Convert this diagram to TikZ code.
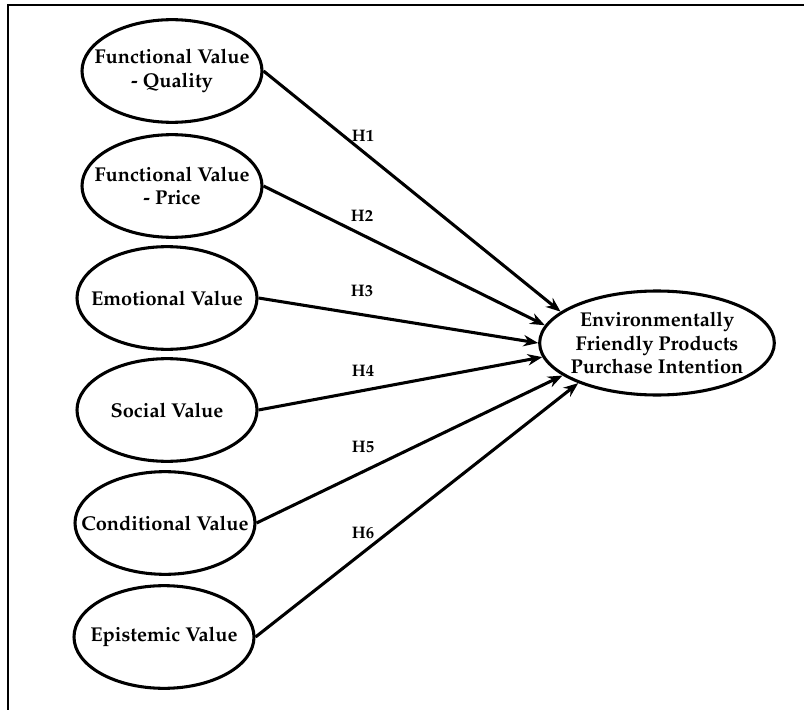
\documentclass[tikz,border=0pt]{standalone}
\usepackage[T1]{fontenc}
\usepackage{mathpazo}
\usetikzlibrary{
  arrows.meta,
  shapes.geometric
}

\begin{document}
\begin{tikzpicture}[x=0.75pt,y=-0.75pt,
  construct/.style={ellipse,draw,line width=2.3pt,minimum width=135pt,minimum height=77pt,
    inner xsep=-30pt,inner ysep=-12pt,align=center,font=\bfseries\fontsize{15}{17.5}\selectfont},
  hyp/.style={-{Stealth[length=11pt,width=8.5pt]},line width=2.3pt},
  hlabel/.style={font=\bfseries\fontsize{12.5}{14}\selectfont}]
  \useasboundingbox (0,0) rectangle (804,710);
  \draw[line width=2pt] (804,5) -- (8,5) -- (8,710);
  % exogenous constructs
  \node[construct] (quality)     at (172,71)  {Functional Value\\- Quality};
  \node[construct] (price)       at (172,186) {Functional Value\\- Price};
  \node[construct] (emotional)   at (167,298) {Emotional Value};
  \node[construct] (social)      at (167,410) {Social Value};
  \node[construct] (conditional) at (165,523) {Conditional Value};
  \node[construct] (epistemic)   at (164,637) {Epistemic Value};
  % endogenous construct
  \node[construct,minimum width=176pt,minimum height=78pt] (intention) at (657,343)
    {Environmentally\\Friendly Products\\Purchase Intention};
  % hypotheses
  \draw[hyp] (quality.east)     -- (intention.162);
  \draw[hyp] (price.east)       -- (intention.171);
  \draw[hyp] (emotional.east)   -- (intention.180);
  \draw[hyp] (social.east)      -- (intention.187);
  \draw[hyp] (conditional.east) -- (intention.199);
  \draw[hyp] (epistemic.east)   -- (intention.207);
  \node[hlabel] (h1) at (363,136) {H1};
  \node[hlabel] (h2) at (362,216) {H2};
  \node[hlabel] (h3) at (362,291) {H3};
  \node[hlabel] (h4) at (363,371) {H4};
  \node[hlabel] (h5) at (363,447) {H5};
  \node[hlabel] (h6) at (363,533) {H6};
\end{tikzpicture}
\end{document}
